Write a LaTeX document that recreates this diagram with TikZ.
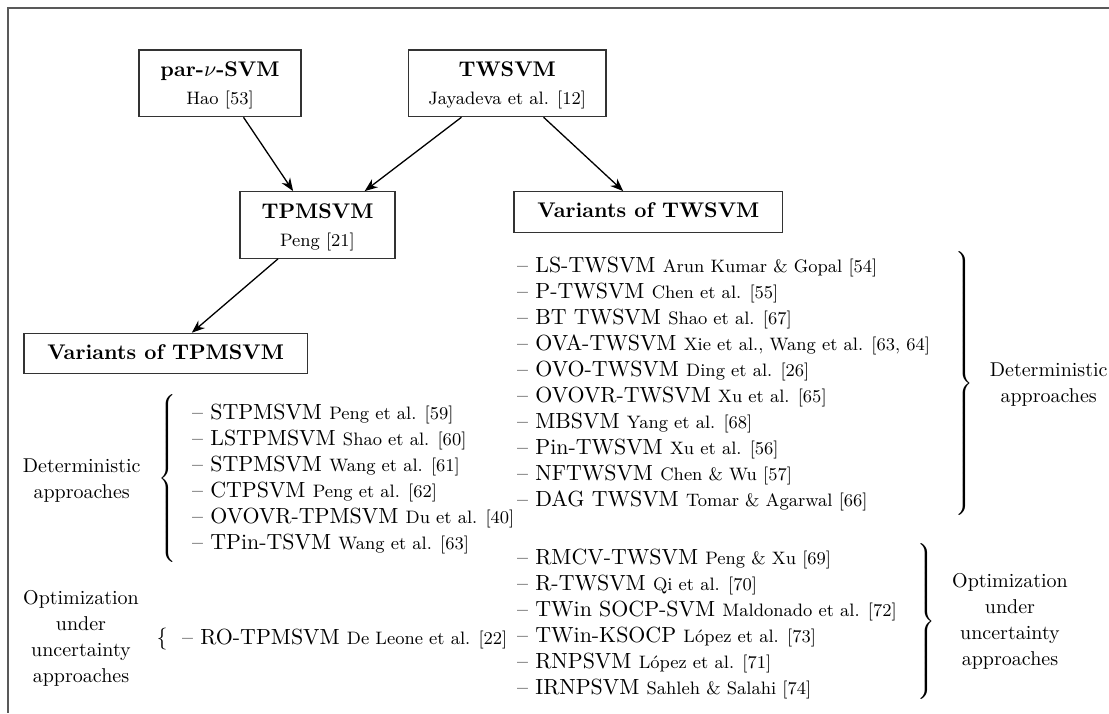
\documentclass[tikz,border=0pt]{standalone}
\usepackage{amsmath}
\usetikzlibrary{arrows.meta,calc}

% text sizes used in the chart
\newcommand\fmain{\fontsize{10.95}{13}\selectfont}
\newcommand\fcite{\fontsize{9}{11}\selectfont}
\newcommand\ftitle{\fontsize{10.6}{13}\selectfont\bfseries}
\newcommand\flabel{\fontsize{10}{13}\selectfont}

% braces built from TeX delimiters at an exact height
\delimitershortfall=0pt
\delimiterfactor=1000
\nulldelimiterspace=0pt
\newcommand\grpopen[1]{$\left\{\vrule height #1 depth #1 width 0pt\right.$}
\newcommand\grpclose[1]{$\left.\vrule height #1 depth #1 width 0pt\right\}$}

\tikzset{
  box/.style={draw=black!80, line width=0.6pt, inner sep=0pt},
  txt/.style={inner sep=0pt, anchor=base west, font=\fmain},
  lab/.style={inner sep=0pt, anchor=base, font=\flabel},
  ttl/.style={inner sep=0pt, anchor=base, font=\ftitle},
  sub/.style={inner sep=0pt, anchor=base, font=\fcite},
  arr/.style={-{Stealth[length=6.5pt,width=5pt]}, line width=0.65pt},
  frm/.style={draw=black!65, line width=1.1pt},
  brc/.style={inner sep=0pt, anchor=center}
}

\begin{document}
\begin{tikzpicture}[x=0.5pt,y=-0.5pt]
\useasboundingbox (0,0) rectangle (1109,713);

% outer frame
\draw[frm] (1109,8.3) -- (8.3,8.3) -- (8.3,713);

% boxes
\node[box, minimum width=81pt,    minimum height=33.35pt] (par) at (220,83.3) {};
\node[box, minimum width=98.85pt, minimum height=33.35pt] (tw)  at (507.2,83.3) {};
\node[box, minimum width=77.5pt,  minimum height=33.3pt]  (tpm) at (317.5,225) {};
\node[box, minimum width=134.35pt,minimum height=20.3pt]  (vtw) at (648.35,212) {};
\node[box, minimum width=141.65pt,minimum height=20pt]    (vtp) at (165.65,353.3) {};

% box texts
\node[ttl] (parT) at (220,76.5) {par-$\nu$-SVM};
\node[sub] (parS) at (220,104.5) {Hao [53]};
\node[ttl] (twT) at (507.2,76.5) {TWSVM};
\node[sub] (twS) at (507.2,104.5) {Jayadeva et al. [12]};
\node[ttl] (tpmT) at (317.5,218.2) {TPMSVM};
\node[sub] (tpmS) at (317.5,246.2) {Peng [21]};
\node[ttl] (vtwT) at (648.35,217) {Variants of TWSVM};
\node[ttl] (vtpT) at (165.65,359.1) {Variants of TPMSVM};

% connectors
\draw[arr] ($(par.south west)!0.644!(par.south east)$) -- ($(tpm.north west)!0.344!(tpm.north east)$);
\draw[arr] ($(tw.south west)!0.27!(tw.south east)$) -- ($(tpm.north west)!0.802!(tpm.north east)$);
\draw[arr] ($(tw.south west)!0.683!(tw.south east)$) -- ($(vtw.north west)!0.407!(vtw.north east)$);
\draw[arr] ($(tpm.south west)!0.247!(tpm.south east)$) -- ($(vtp.north west)!0.592!(vtp.north east)$);

% variants of TWSVM: deterministic
\foreach [count=\i from 0] \nm/\au in {
  LS-TWSVM/{Arun Kumar \& Gopal [54]},
  P-TWSVM/{Chen et al. [55]},
  BT TWSVM/{Shao et al. [67]},
  OVA-TWSVM/{Xie et al., Wang et al. [63, 64]},
  OVO-TWSVM/{Ding et al. [26]},
  OVOVR-TWSVM/{Xu et al. [65]},
  MBSVM/{Yang et al. [68]},
  Pin-TWSVM/{Xu et al. [56]},
  NFTWSVM/{Chen \& Wu [57]},
  DAG TWSVM/{Tomar \& Agarwal [66]}}
  \node[txt] (rd\i) at (516.7,272+26*\i) {\textendash\ \nm\ {\fcite \au}};

% variants of TWSVM: optimization under uncertainty
\foreach [count=\i from 0] \nm/\au in {
  RMCV-TWSVM/{Peng \& Xu [69]},
  R-TWSVM/{Qi et al. [70]},
  TWin SOCP-SVM/{Maldonado et al. [72]},
  TWin-KSOCP/{López et al. [73]},
  RNPSVM/{López et al. [71]},
  IRNPSVM/{Sahleh \& Salahi [74]}}
  \node[txt] (ro\i) at (516.7,564+26*\i) {\textendash\ \nm\ {\fcite \au}};

% variants of TPMSVM: deterministic
\foreach [count=\i from 0] \nm/\au in {
  STPMSVM/{Peng et al. [59]},
  LSTPMSVM/{Shao et al. [60]},
  STPMSVM/{Wang et al. [61]},
  CTPSVM/{Peng et al. [62]},
  OVOVR-TPMSVM/{Du et al. [40]},
  TPin-TSVM/{Wang et al. [63]}}
  \node[txt] (ld\i) at (191.7,419+26.1*\i) {\textendash\ \nm\ {\fcite \au}};

% variants of TPMSVM: optimization under uncertainty
\node[txt] (lo0) at (181.7,644.5) {\textendash\ RO-TPMSVM {\fcite De Leone et al. [22]}};
\node[inner sep=0pt, anchor=base, font=\fmain] (lob) at (162,644.5) {$\{$};

% braces
\node[brc] (ldb) at (167.5,478.3) {\grpopen{36.7pt}};
\node[brc] (rdb) at (964,383.3) {\grpclose{62.5pt}};
\node[brc] (rob) at (926.5,621.7) {\grpclose{36.5pt}};

% group labels
\node[lab] (ldl1) at (81.7,472) {Deterministic};
\node[lab] (ldl2) at (81.7,498) {approaches};
\node[lab] (lol1) at (81,604) {Optimization};
\node[lab] (lol2) at (81,630) {under};
\node[lab] (lol3) at (81,656) {uncertainty};
\node[lab] (lol4) at (81,682) {approaches};
\node[lab] (rdl1) at (1048.7,376.5) {Deterministic};
\node[lab] (rdl2) at (1048.7,402) {approaches};
\node[lab] (rol1) at (1010,587.5) {Optimization};
\node[lab] (rol2) at (1010,613.5) {under};
\node[lab] (rol3) at (1010,639.5) {uncertainty};
\node[lab] (rol4) at (1010,665.5) {approaches};
\end{tikzpicture}
\end{document}
